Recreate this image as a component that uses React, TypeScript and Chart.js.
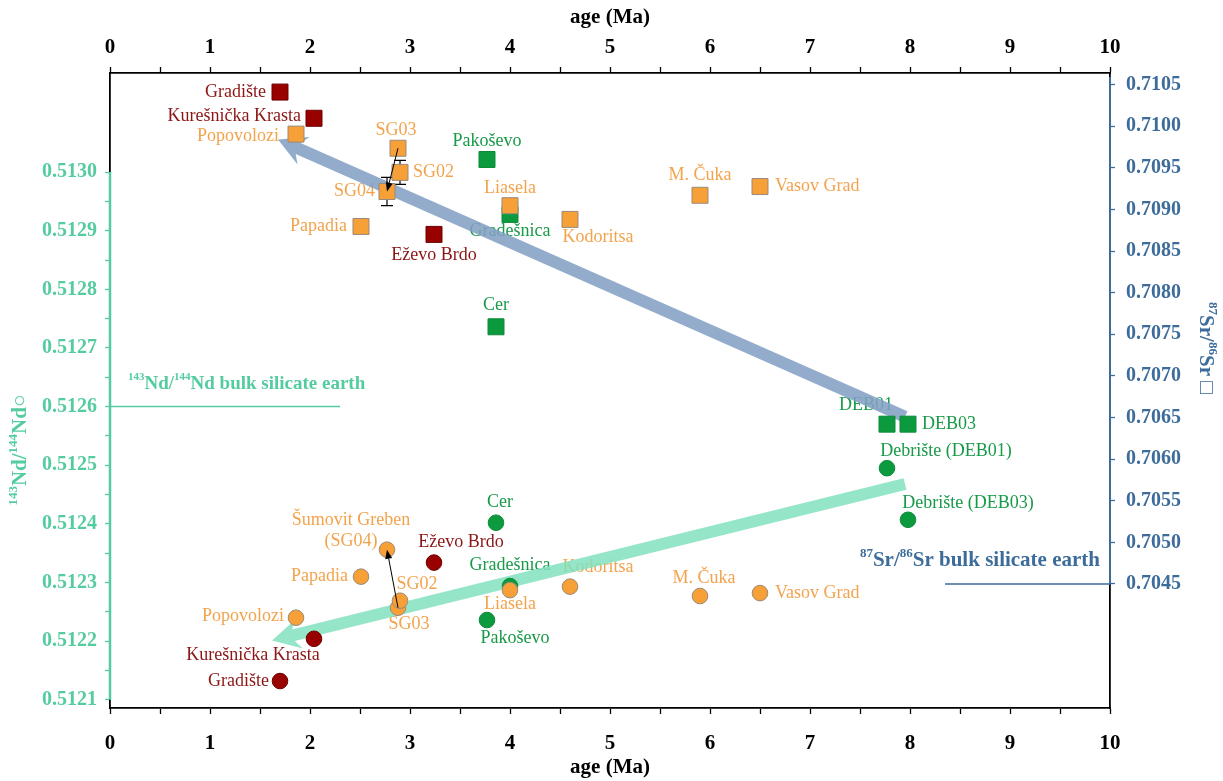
import React, { useEffect, useRef } from 'react';
import { Chart, registerables } from 'chart.js';

Chart.register(...registerables);

const FONT = '"Liberation Serif", "Times New Roman", serif';

// ---------------- data ----------------
const samples = ['Gradište', 'Kurešnička Krasta', 'Popovolozi', 'SG03', 'SG02', 'SG04', 'Papadia', 'Eževo Brdo', 'Pakoševo', 'Liasela', 'Gradešnica', 'Kodoritsa', 'M. Čuka', 'Vasov Grad', 'Cer', 'DEB01', 'DEB03'];
const groups = ['red', 'red', 'orange', 'orange', 'orange', 'orange', 'orange', 'red', 'green', 'orange', 'green', 'orange', 'orange', 'orange', 'green', 'green', 'green'];
const ages = [1.70, 2.04, 1.86, 2.88, 2.90, 2.77, 2.51, 3.24, 3.77, 4.00, 4.00, 4.60, 5.90, 6.50, 3.86, 7.77, 7.98];
const ndValues = [0.512132, 0.512204, 0.512240, 0.512257, 0.512269, 0.512356, 0.512310, 0.512334, 0.512236, 0.512287, 0.512294, 0.512293, 0.512277, 0.512282, 0.512402, 0.512495, 0.512407];
const srValues = [0.710410, 0.710095, 0.709905, 0.709735, 0.709445, 0.709215, 0.708795, 0.708700, 0.709600, 0.709045, 0.708940, 0.708880, 0.709170, 0.709275, 0.707590, 0.706420, 0.706420];
const srLabelText = ['Gradište', 'Kurešnička Krasta', 'Popovolozi', 'SG03', 'SG02', 'SG04', 'Papadia', 'Eževo Brdo', 'Pakoševo', 'Liasela', 'Gradešnica', 'Kodoritsa', 'M. Čuka', 'Vasov Grad', 'Cer', 'DEB01', 'DEB03'];
const ndLabelText = ['Gradište', 'Kurešnička Krasta', 'Popovolozi', 'SG03', 'SG02', 'Šumovit Greben\n(SG04)', 'Papadia', 'Eževo Brdo', 'Pakoševo', 'Liasela', 'Gradešnica', 'Kodoritsa', 'M. Čuka', 'Vasov Grad', 'Cer', 'Debrište (DEB01)', 'Debrište (DEB03)'];

const errorSamples = ['SG02', 'SG04'];
const srErrors = [0.000145, 0.00017];
const thinArrowFrom = 'SG03';
const thinArrowTo = 'SG04';

const ndBSE = 0.5126;
const ndBSERange = [0, 2.3];
const srBSE = 0.7045;
const srBSERange = [8.35, 10];

const srTrendTail = [7.95, 0.70651];
const srTrendHead = [1.68, 0.70984];
const ndTrendTail = [7.95, 0.512468];
const ndTrendHead = [1.62, 0.512201];

const xTickValues = [0, 0.5, 1, 1.5, 2, 2.5, 3, 3.5, 4, 4.5, 5, 5.5, 6, 6.5, 7, 7.5, 8, 8.5, 9, 9.5, 10];
const xTickLabels = ['0', '', '1', '', '2', '', '3', '', '4', '', '5', '', '6', '', '7', '', '8', '', '9', '', '10'];
const ndTickValues = [0.5121, 0.51215, 0.5122, 0.51225, 0.5123, 0.51235, 0.5124, 0.51245, 0.5125, 0.51255, 0.5126, 0.51265, 0.5127, 0.51275, 0.5128, 0.51285, 0.5129, 0.51295, 0.5130];
const ndTickLabels = ['0.5121', '', '0.5122', '', '0.5123', '', '0.5124', '', '0.5125', '', '0.5126', '', '0.5127', '', '0.5128', '', '0.5129', '', '0.5130'];
const srTickValues = [0.7045, 0.7050, 0.7055, 0.7060, 0.7065, 0.7070, 0.7075, 0.7080, 0.7085, 0.7090, 0.7095, 0.7100, 0.7105];
const srTickLabels = ['0.7045', '0.7050', '0.7055', '0.7060', '0.7065', '0.7070', '0.7075', '0.7080', '0.7085', '0.7090', '0.7095', '0.7100', '0.7105'];

const ndRange = [0.512086, 0.513169];
const srRange = [0.70301, 0.710639];

// ---------------- styles / layout ----------------
const TEAL = '#55cc9f';
const BLUE = '#3d6c9b';
const fillColors: Record<string, string> = { red: '#990000', orange: '#f7a038', green: '#0c9a3e' };
const borderColors: Record<string, string> = { red: '#6e0000', orange: '#9a8a7a', green: '#0c8a38' };
const textColors: Record<string, string> = { red: '#8c1515', orange: '#f2a34c', green: '#179a48' };

// label offsets in px relative to marker: [dx, dy, align]
const srLabelLayout: [number, number, string][] = [
  [-14, 0, 'right'], [-13, -2, 'right'], [-17, 2, 'right'], [-2, -18, 'center'], [13, 0, 'left'],
  [-12, 0, 'right'], [-14, 0, 'right'], [0, 21, 'center'], [0, -18, 'center'], [0, -17, 'center'],
  [0, 17, 'center'], [28, 18, 'center'], [0, -20, 'center'], [15, 0, 'left'], [0, -22, 'center'],
  [-21, -19, 'center'], [14, 0, 'left'],
];
const ndLabelLayout: [number, number, string][] = [
  [-11, 0, 'right'], [-61, 16, 'center'], [-12, -1, 'right'], [11, 17, 'center'], [17, -16, 'center'],
  [-36, -29, 'center'], [-13, 0, 'right'], [27, -20, 'center'], [28, 18, 'center'], [0, 14, 'center'],
  [0, -21, 'center'], [28, -19, 'center'], [4, -18, 'center'], [15, 0, 'left'], [4, -20, 'center'],
  [59, -17, 'center'], [60, -17, 'center'],
];

type Part = [string, boolean];

function drawRich(ctx: CanvasRenderingContext2D, parts: Part[], x: number, y: number, size: number, weight: string, color: string, align: string) {
  const fontFor = (sup: boolean) => `${weight} ${sup ? Math.round(size * 0.6) : size}px ${FONT}`;
  let total = 0;
  for (const [t, s] of parts) {
    ctx.font = fontFor(s);
    total += ctx.measureText(t).width;
  }
  let cx = align === 'left' ? x : align === 'right' ? x - total : x - total / 2;
  ctx.fillStyle = color;
  ctx.textBaseline = 'middle';
  ctx.textAlign = 'left';
  for (const [t, s] of parts) {
    ctx.font = fontFor(s);
    ctx.fillText(t, cx, s ? y - size * 0.33 : y);
    cx += ctx.measureText(t).width;
  }
}

function blockArrow(ctx: CanvasRenderingContext2D, x1: number, y1: number, x2: number, y2: number, bw: number, hw: number, hl: number, color: string) {
  const len = Math.hypot(x2 - x1, y2 - y1);
  const ux = (x2 - x1) / len, uy = (y2 - y1) / len;
  const nx = -uy, ny = ux;
  const bx = x2 - ux * hl, by = y2 - uy * hl;
  const nb = x2 - ux * (hl - 6), nby = y2 - uy * (hl - 6);
  ctx.beginPath();
  ctx.moveTo(x1 + nx * bw / 2, y1 + ny * bw / 2);
  ctx.lineTo(nb + nx * bw / 2, nby + ny * bw / 2);
  ctx.lineTo(bx + nx * hw / 2, by + ny * hw / 2);
  ctx.lineTo(x2, y2);
  ctx.lineTo(bx - nx * hw / 2, by - ny * hw / 2);
  ctx.lineTo(nb - nx * bw / 2, nby - ny * bw / 2);
  ctx.lineTo(x1 - nx * bw / 2, y1 - ny * bw / 2);
  ctx.closePath();
  ctx.fillStyle = color;
  ctx.fill();
}

function thinArrow(ctx: CanvasRenderingContext2D, x1: number, y1: number, x2: number, y2: number) {
  const len = Math.hypot(x2 - x1, y2 - y1);
  const ux = (x2 - x1) / len, uy = (y2 - y1) / len;
  const nx = -uy, ny = ux;
  const hl = 9, hw = 7;
  ctx.strokeStyle = '#000';
  ctx.lineWidth = 1;
  ctx.beginPath();
  ctx.moveTo(x1, y1);
  ctx.lineTo(x2 - ux * hl, y2 - uy * hl);
  ctx.stroke();
  ctx.beginPath();
  ctx.moveTo(x2, y2);
  ctx.lineTo(x2 - ux * hl + nx * hw / 2, y2 - uy * hl + ny * hw / 2);
  ctx.lineTo(x2 - ux * hl - nx * hw / 2, y2 - uy * hl - ny * hw / 2);
  ctx.closePath();
  ctx.fillStyle = '#000';
  ctx.fill();
}

const overlayPlugin = {
  id: 'overlay',
  beforeDatasetsDraw(chart: any) {
    const { ctx, scales, chartArea } = chart;
    const x = scales.x, yN = scales.yNd, yS = scales.ySr;
    ctx.save();
    // colored axis segments
    ctx.lineWidth = 2.5;
    ctx.strokeStyle = TEAL;
    ctx.beginPath();
    ctx.moveTo(chartArea.left, yN.getPixelForValue(ndTickValues[0]));
    ctx.lineTo(chartArea.left, yN.getPixelForValue(ndTickValues[ndTickValues.length - 1]));
    ctx.stroke();
    ctx.lineWidth = 2;
    ctx.strokeStyle = BLUE;
    ctx.beginPath();
    ctx.moveTo(chartArea.right, yS.getPixelForValue(srTickValues[0]));
    ctx.lineTo(chartArea.right, chartArea.top + 4);
    ctx.stroke();

    // BSE reference lines
    ctx.lineWidth = 1.5;
    ctx.strokeStyle = TEAL;
    ctx.beginPath();
    ctx.moveTo(x.getPixelForValue(ndBSERange[0]), yN.getPixelForValue(ndBSE));
    ctx.lineTo(x.getPixelForValue(ndBSERange[1]), yN.getPixelForValue(ndBSE));
    ctx.stroke();
    ctx.strokeStyle = BLUE;
    ctx.beginPath();
    ctx.moveTo(x.getPixelForValue(srBSERange[0]), yS.getPixelForValue(srBSE));
    ctx.lineTo(x.getPixelForValue(srBSERange[1]), yS.getPixelForValue(srBSE));
    ctx.stroke();

    drawRich(ctx, [['143', true], ['Nd/', false], ['144', true], ['Nd bulk silicate earth', false]],
      x.getPixelForValue(ndBSERange[0]) + 18, yN.getPixelForValue(ndBSE) - 23, 19, 'bold', TEAL, 'left');
    drawRich(ctx, [['87', true], ['Sr/', false], ['86', true], ['Sr bulk silicate earth', false]],
      x.getPixelForValue(srBSERange[1]) - 10, yS.getPixelForValue(srBSE) - 23, 21, 'bold', BLUE, 'right');

    // sample labels
    for (let i = 0; i < samples.length; i++) {
      const color = textColors[groups[i]];
      const sx = x.getPixelForValue(ages[i]);
      const [sdx, sdy, sal] = srLabelLayout[i];
      drawRich(ctx, [[srLabelText[i], false]], sx + sdx, yS.getPixelForValue(srValues[i]) + sdy, 18, 'normal', color, sal);
      const [ndx, ndy, nal] = ndLabelLayout[i];
      const lines = ndLabelText[i].split('\n');
      lines.forEach((ln, j) => {
        drawRich(ctx, [[ln, false]], sx + ndx, yN.getPixelForValue(ndValues[i]) + ndy + j * 21, 18, 'normal', color, nal);
      });
    }

    // trend arrows
    blockArrow(ctx, x.getPixelForValue(srTrendTail[0]), yS.getPixelForValue(srTrendTail[1]),
      x.getPixelForValue(srTrendHead[0]), yS.getPixelForValue(srTrendHead[1]), 12, 30, 28, 'rgba(132,160,196,0.88)');
    blockArrow(ctx, x.getPixelForValue(ndTrendTail[0]), yN.getPixelForValue(ndTrendTail[1]),
      x.getPixelForValue(ndTrendHead[0]), yN.getPixelForValue(ndTrendHead[1]), 12, 30, 28, 'rgba(130,224,190,0.85)');

    // error bars
    ctx.strokeStyle = '#000';
    ctx.lineWidth = 1.2;
    errorSamples.forEach((name, k) => {
      const i = samples.indexOf(name);
      const px = x.getPixelForValue(ages[i]);
      const yt = yS.getPixelForValue(srValues[i] + srErrors[k]);
      const yb = yS.getPixelForValue(srValues[i] - srErrors[k]);
      ctx.beginPath();
      ctx.moveTo(px, yt); ctx.lineTo(px, yb);
      ctx.moveTo(px - 6, yt); ctx.lineTo(px + 6, yt);
      ctx.moveTo(px - 6, yb); ctx.lineTo(px + 6, yb);
      ctx.stroke();
    });
    ctx.restore();
  },
  afterDatasetsDraw(chart: any) {
    const { ctx, scales, chartArea } = chart;
    const x = scales.x, yN = scales.yNd, yS = scales.ySr;
    ctx.save();
    const a = samples.indexOf(thinArrowFrom), b = samples.indexOf(thinArrowTo);
    thinArrow(ctx, x.getPixelForValue(ages[a]), yS.getPixelForValue(srValues[a]), x.getPixelForValue(ages[b]), yS.getPixelForValue(srValues[b]));
    thinArrow(ctx, x.getPixelForValue(ages[a]), yN.getPixelForValue(ndValues[a]), x.getPixelForValue(ages[b]), yN.getPixelForValue(ndValues[b]));

    // axis titles
    const cx = (chartArea.left + chartArea.right) / 2;
    drawRich(ctx, [['age (Ma)', false]], cx, 18, 21, 'bold', '#000', 'center');
    drawRich(ctx, [['age (Ma)', false]], cx, 768, 21, 'bold', '#000', 'center');
    ctx.save();
    ctx.translate(21, 450);
    ctx.rotate(-Math.PI / 2);
    drawRich(ctx, [['143', true], ['Nd/', false], ['144', true], ['Nd', false], ['○', false]], 0, 0, 21, 'bold', TEAL, 'center');
    ctx.restore();
    ctx.save();
    ctx.translate(1205, 348);
    ctx.rotate(Math.PI / 2);
    drawRich(ctx, [['87', true], ['Sr/', false], ['86', true], ['Sr ', false], ['□', false]], 0, 0, 21, 'bold', BLUE, 'center');
    ctx.restore();
    ctx.restore();
  },
};

function makeDatasets() {
  const order = ['red', 'orange', 'green'];
  const sets: any[] = [];
  for (const g of order) {
    const idx = samples.map((_, i) => i).filter((i) => groups[i] === g);
    sets.push({
      label: `Sr ${g}`,
      yAxisID: 'ySr',
      data: idx.map((i) => ({ x: ages[i], y: srValues[i] })),
      pointStyle: 'rect',
      pointRadius: 11.3,
      backgroundColor: fillColors[g],
      borderColor: borderColors[g],
      borderWidth: 1,
      showLine: false,
    });
  }
  for (const g of order) {
    const idx = samples.map((_, i) => i).filter((i) => groups[i] === g);
    sets.push({
      label: `Nd ${g}`,
      yAxisID: 'yNd',
      data: idx.map((i) => ({ x: ages[i], y: ndValues[i] })),
      pointStyle: 'circle',
      pointRadius: 7.8,
      backgroundColor: fillColors[g],
      borderColor: borderColors[g],
      borderWidth: 1,
      showLine: false,
    });
  }
  return sets;
}

function xScale(position: string, padding: number) {
  return {
    type: 'linear',
    position,
    min: 0,
    max: 10,
    afterBuildTicks: (s: any) => { s.ticks = xTickValues.map((v) => ({ value: v })); },
    afterFit: (s: any) => { s.height = 73; },
    ticks: {
      callback: (_v: any, i: number) => xTickLabels[i],
      font: { family: FONT, size: 21, weight: 'bold' },
      color: '#000',
      padding,
      autoSkip: false,
      maxRotation: 0,
      minRotation: 0,
    },
    grid: { drawOnChartArea: false, drawTicks: true, tickLength: 6, color: '#000', tickWidth: 1.3 },
    border: { display: true, color: '#000', width: 1.8 },
  };
}

export default function App() {
  const ref = useRef<HTMLCanvasElement>(null);
  useEffect(() => {
    const chart = new Chart(ref.current as HTMLCanvasElement, {
      type: 'scatter',
      data: { datasets: makeDatasets() },
      plugins: [overlayPlugin],
      options: {
        responsive: false,
        maintainAspectRatio: false,
        animation: false,
        layout: { padding: 0 },
        plugins: { legend: { display: false }, tooltip: { enabled: false } },
        scales: {
          x: xScale('bottom', 17),
          x2: xScale('top', 7),
          yNd: {
            type: 'linear',
            position: 'left',
            min: ndRange[0],
            max: ndRange[1],
            afterBuildTicks: (s: any) => { s.ticks = ndTickValues.map((v) => ({ value: v })); },
            afterFit: (s: any) => { s.width = 110; },
            ticks: {
              callback: (_v: any, i: number) => ndTickLabels[i],
              font: { family: FONT, size: 20, weight: 'bold' },
              color: TEAL,
              padding: 8,
              autoSkip: false,
            },
            grid: { drawOnChartArea: false, drawTicks: true, tickLength: 5, color: TEAL, tickWidth: 1.3 },
            border: { display: true, color: '#000', width: 1.8 },
          },
          ySr: {
            type: 'linear',
            position: 'right',
            min: srRange[0],
            max: srRange[1],
            afterBuildTicks: (s: any) => { s.ticks = srTickValues.map((v) => ({ value: v })); },
            afterFit: (s: any) => { s.width = 113; },
            ticks: {
              callback: (_v: any, i: number) => srTickLabels[i],
              font: { family: FONT, size: 20, weight: 'bold' },
              color: BLUE,
              padding: 11,
              autoSkip: false,
            },
            grid: { drawOnChartArea: false, drawTicks: true, tickLength: 5, color: BLUE, tickWidth: 1.3 },
            border: { display: true, color: '#000', width: 1.8 },
          },
        },
      } as any,
    });
    return () => chart.destroy();
  }, []);
  return (
    <div style={{ position: 'fixed', left: 0, top: 0, width: 1223, height: 781, background: '#fff' }}>
      <canvas ref={ref} width={1223} height={781} style={{ display: 'block' }} />
    </div>
  );
}
